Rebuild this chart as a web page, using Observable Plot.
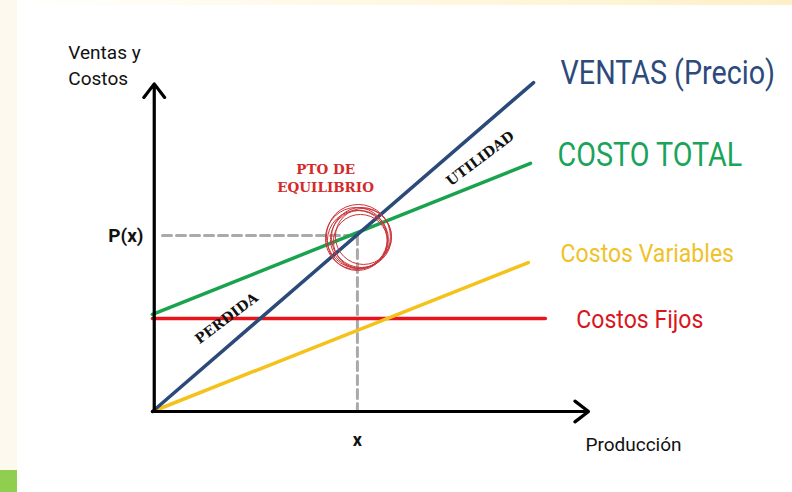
<!DOCTYPE html>
<html>
<head>
<meta charset="utf-8">
<script src="https://cdn.jsdelivr.net/npm/d3@7"></script>
<script src="https://cdn.jsdelivr.net/npm/@observablehq/plot@0.6"></script>
<style>
  html, body { margin: 0; padding: 0; background: #ffffff; width: 792px; height: 492px; overflow: hidden; position: relative; }
  #topband { position: absolute; left: 0; top: 0; width: 792px; height: 5px; background: linear-gradient(to right, #ffffff 0%, #fff6dc 60%, #fdf0c8 100%); }
  #leftstrip { position: absolute; left: 0; top: 0; width: 17px; height: 470px; background: #fdf9ee; }
  #greenblock { position: absolute; left: 0; top: 470px; width: 17px; height: 22px; background: #8fce4f; }
  #chart { position: absolute; left: 0; top: 0; }
</style>
</head>
<body>
<div id="topband"></div>
<div id="leftstrip"></div>
<div id="greenblock"></div>
<div id="chart"></div>
<script>
// Line end points (Producción, Ventas y Costos)
const ventas = [{x: 0, y: 0}, {x: 87.4, y: 100.9}];
const costoTotal = [{x: 0, y: 29.8}, {x: 86.7, y: 76.1}];
const costosVariables = [{x: 0, y: 0}, {x: 86.2, y: 45.7}];
const costosFijos = [{x: 0, y: 28.5}, {x: 90.1, y: 28.5}];
const equilibrio = [{x: 47, y: 54}];
const axisX = [{x1: 0, y1: 0, x2: 100, y2: 0}];
const axisY = [{x1: 0.4, y1: 0, x2: 0.4, y2: 100.5}];

// Text labels
const axisTitles = [
  {text: "Ventas y", x: -19.3, y: 110.1},
  {text: "Costos", x: -19.3, y: 102.1}
];
const seriesLabels = [
  {text: "VENTAS (Precio)", x: 93.6, y: 103.7, color: "#2c4a7c", size: 33},
  {text: "COSTO TOTAL", x: 92.9, y: 78.5, color: "#1aa35a", size: 33},
  {text: "Costos Variables", x: 93.6, y: 48.5, color: "#f0c22a", size: 26.5},
  {text: "Costos Fijos", x: 97.2, y: 28.2, color: "#d9161e", size: 26.5}
];
const ptoLabel = [
  {text: "PTO DE", x: 39.7, y: 74.2},
  {text: "EQUILIBRIO", x: 39.7, y: 68.7}
];
const zoneLabels = [
  {text: "UTILIDAD", x: 75.2, y: 77.6},
  {text: "PERDIDA", x: 17.0, y: 28.5}
];

const sans = "Roboto, 'Liberation Sans', sans-serif";
const serif = "'DejaVu Serif', 'Liberation Serif', serif";

const chart = Plot.plot({
  width: 792,
  height: 492,
  marginLeft: 152,
  marginRight: 204,
  marginTop: 85,
  marginBottom: 81,
  x: {domain: [0, 100], axis: null},
  y: {domain: [0, 100], axis: null},
  style: {background: "transparent", overflow: "visible"},
  marks: [
    // dashed guides
    Plot.line([{x: 2.3, y: equilibrio[0].y}, equilibrio[0]], {x: "x", y: "y", stroke: "#aaaaaa", strokeWidth: 3, strokeDasharray: "9,5"}),
    Plot.line([equilibrio[0], {x: equilibrio[0].x, y: 0}], {x: "x", y: "y", stroke: "#aaaaaa", strokeWidth: 3, strokeDasharray: "9,5"}),
    // series lines
    Plot.line(costosFijos, {x: "x", y: "y", stroke: "#e8141c", strokeWidth: 3.5}),
    Plot.line(costosVariables, {x: "x", y: "y", stroke: "#f4c21a", strokeWidth: 3.5}),
    Plot.line(costoTotal, {x: "x", y: "y", stroke: "#1aa34f", strokeWidth: 3.5}),
    Plot.line(ventas, {x: "x", y: "y", stroke: "#2b4a7a", strokeWidth: 3.5}),
    // axes with arrows
    Plot.arrow(axisX, {x1: "x1", y1: "y1", x2: "x2", y2: "y2", stroke: "#000", strokeWidth: 3.2, headLength: 8, headAngle: 75}),
    Plot.arrow(axisY, {x1: "x1", y1: "y1", x2: "x2", y2: "y2", stroke: "#000", strokeWidth: 3.2, headLength: 8, headAngle: 75}),
    // equilibrium scribble circles
    Plot.dot(equilibrio, {x: "x", y: "y", r: 31, dx: -1, dy: 3, stroke: "#c9353a", strokeWidth: 1, fill: "none"}),
    Plot.dot(equilibrio, {x: "x", y: "y", r: 29, dx: 2, dy: 4, stroke: "#c9353a", strokeWidth: 1, fill: "none"}),
    Plot.dot(equilibrio, {x: "x", y: "y", r: 30, dx: 4, dy: 2, stroke: "#c9353a", strokeWidth: 1, fill: "none"}),
    Plot.dot(equilibrio, {x: "x", y: "y", r: 28, dx: 6, dy: 1, stroke: "#c9353a", strokeWidth: 1, fill: "none"}),
    Plot.dot(equilibrio, {x: "x", y: "y", r: 27, dx: 3, dy: 6, stroke: "#c9353a", strokeWidth: 1, fill: "none"}),
    Plot.dot(equilibrio, {x: "x", y: "y", r: 32, dx: 1, dy: 1, stroke: "#c9353a", strokeWidth: 1, fill: "none"}),
    Plot.dot(equilibrio, {x: "x", y: "y", r: 30, dx: 0, dy: 5, stroke: "#c9353a", strokeWidth: 1, fill: "none"}),
    // axis titles
    Plot.text(axisTitles, {x: "x", y: "y", text: "text", textAnchor: "start", fontSize: 19, fill: "#111", fontFamily: sans}),
    Plot.text(equilibrio, {x: 0, y: "y", text: () => "P(x)", textAnchor: "end", dx: -9, fontSize: 19, fontWeight: "bold", fill: "#111", fontFamily: sans}),
    Plot.text(equilibrio, {x: "x", y: 0, text: () => "x", dy: 29, fontSize: 18, fontWeight: "bold", fill: "#111", fontFamily: sans}),
    Plot.text(["Producción"], {x: 99.3, y: -10.4, text: d => d, textAnchor: "start", fontSize: 19, fill: "#111", fontFamily: sans}),
    // series labels (condensed below)
    Plot.text(seriesLabels, {x: "x", y: "y", text: "text", fill: "color", fontSize: "size", textAnchor: "start", fontFamily: sans}),
    // annotations
    Plot.text(ptoLabel, {x: "x", y: "y", text: "text", fill: "#d42a2a", fontSize: 13.5, fontWeight: "bold", fontFamily: serif}),
    Plot.text(zoneLabels, {x: "x", y: "y", text: "text", rotate: -37, fill: "#111", fontSize: 14, fontWeight: "bold", fontFamily: serif})
  ]
});
// condense the big series labels horizontally (narrow typeface look)
const condensed = new Set(seriesLabels.map(d => d.text));
d3.select(chart).selectAll("text").each(function () {
  if (!condensed.has(this.textContent)) return;
  const t = this.getAttribute("transform");
  if (t) this.setAttribute("transform", t + " scale(0.87,1)");
});
document.getElementById("chart").appendChild(chart);
</script>
</body>
</html>
